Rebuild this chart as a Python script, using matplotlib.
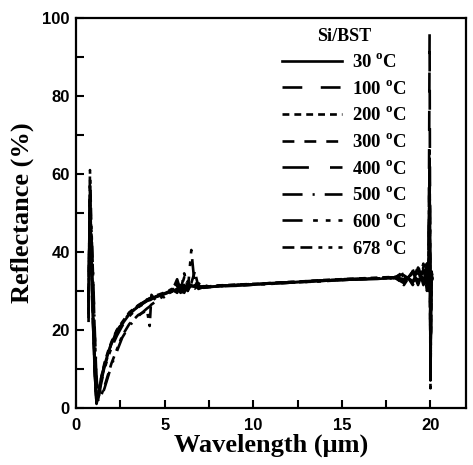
import matplotlib
matplotlib.use('Agg')
import matplotlib.pyplot as plt

plt.rcParams['mathtext.fontset'] = 'custom'
plt.rcParams['mathtext.rm'] = 'Liberation Serif:bold'

# wavelength grid (um) and reflectance (%) per anneal temperature
wl = [0.70, 0.78, 0.85, 0.95, 1.05, 1.15, 1.25, 1.40, 1.60, 1.80,
      2.00, 2.30, 2.60, 3.00, 3.50, 4.00, 4.15, 4.25, 4.50, 5.00,
      5.40, 5.70, 5.90, 6.10, 6.30, 6.50, 6.70, 6.90, 7.20, 7.60,
      8.00, 9.00, 10.0, 11.0, 12.0, 13.0, 14.0, 15.0, 16.0, 17.0,
      18.0, 18.5, 19.0, 19.3, 19.6, 19.8, 19.9, 19.95, 20.0, 20.05, 20.1]

r30 = [30, 52, 40, 22, 9, 1, 3, 7, 11, 14,
       16.5, 19.5, 21.5, 24, 26, 27.5, 27.8, 28, 28.5, 29.3,
       29.8, 30.5, 29.8, 31, 30.2, 31.5, 31, 31.2, 30.8, 31,
       31.2, 31.4, 31.6, 31.9, 32.1, 32.4, 32.6, 32.8, 33, 33.1,
       33.3, 32, 35, 31.5, 35.5, 32, 36, 58, 12, 34, 33]
r100 = [26, 55, 44, 25, 11, 2, 2.5, 6.5, 10.5, 13.5,
        16, 19, 21.5, 24, 26.2, 27.6, 28, 28.2, 28.8, 29.5,
        30.5, 29.5, 32, 30.5, 31.5, 30.8, 31.5, 31, 31.2, 31.1,
        31.3, 31.5, 31.8, 32, 32.2, 32.5, 32.7, 33, 33.1, 33.3,
        33.5, 34.5, 32, 36, 31, 35, 37, 96, 6, 33, 34]
r200 = [24, 54, 42, 24, 10, 1.5, 3.5, 7.5, 11.5, 14.5,
        17, 20, 22, 24.5, 26.3, 27.8, 28, 28.3, 28.8, 29.6,
        30, 31.5, 29, 30.5, 32.5, 31, 30.6, 31.5, 31, 31.2,
        31.4, 31.6, 31.8, 32, 32.3, 32.5, 32.8, 33, 33.2, 33.4,
        33.6, 31.5, 35, 32, 37, 30, 38, 66, 5, 35, 34]
r300 = [28, 56, 43, 23, 9.5, 1, 3, 7, 11, 14,
        16.8, 19.8, 21.8, 24.2, 26.2, 27.7, 28.1, 28.3, 28.7, 29.4,
        30.2, 30, 31, 29.5, 31.5, 32, 31.2, 30.8, 31.1, 31,
        31.3, 31.5, 31.7, 32, 32.2, 32.4, 32.7, 32.9, 33.1, 33.2,
        33.4, 35, 31.5, 34.5, 33, 37, 30, 62, 10, 32, 34]
r400 = [22, 53, 41, 22, 9, 1.2, 3.2, 7.2, 11.2, 14.2,
        16.6, 19.6, 21.6, 24, 26, 27.4, 27.7, 28, 28.6, 29.3,
        29.5, 32, 30.5, 31.5, 30, 32.5, 30.5, 31.3, 30.9, 31.1,
        31.2, 31.4, 31.7, 31.9, 32.2, 32.4, 32.6, 32.8, 33, 33.2,
        33.4, 32.5, 34.5, 35.5, 32, 34, 37, 60, 14, 36, 33]
r500 = [25, 50, 47, 35, 20, 8, 2, 2.5, 5, 8,
        11, 14.5, 18, 21, 23.5, 25.5, 26, 26.5, 27.3, 28.5,
        29.5, 30.5, 29.5, 31.5, 30, 31, 33, 30.5, 31, 31,
        31.2, 31.4, 31.6, 31.9, 32.1, 32.3, 32.6, 32.8, 33, 33.1,
        33.3, 34, 32.5, 33, 36, 31.5, 38, 55, 20, 33, 34]
r600 = [27, 57, 45, 26, 12, 3, 2, 6, 10, 13,
        15.5, 18.5, 21, 23.5, 25.8, 27.2, 27.6, 27.9, 28.4, 29.2,
        30, 31, 30.5, 33.5, 30, 40.5, 31, 32, 30.8, 31.2,
        31.3, 31.5, 31.7, 32, 32.2, 32.4, 32.7, 32.9, 33.1, 33.2,
        33.5, 33, 35.5, 32, 35.5, 34, 39, 64, 7, 34, 33]
r678 = [23, 61, 48, 34, 19, 7, 2.5, 3, 5.5, 8.5,
        11.5, 15, 18.5, 21.5, 23.8, 25, 21, 29, 27.5, 28.8,
        29.8, 33, 30, 34.5, 31, 32, 35, 31, 31.5, 31,
        31.2, 31.3, 31.6, 31.8, 32.1, 32.3, 32.5, 32.8, 33, 33.2,
        33.3, 34.5, 32, 36.5, 31.5, 37, 30, 58, 9, 35, 33]

series = [r30, r100, r200, r300, r400, r500, r600, r678]
temps = ['30', '100', '200', '300', '400', '500', '600', '678']
styles = ['-', (0, (7.5, 7)), (0, (2.6, 1.9)), (0, (4.5, 3.8)),
          (0, (10, 8)), (0, (7.6, 3.8, 0.8, 3.8)),
          (0, (7.6, 4, 1.8, 3, 1.8, 3)),
          (0, (4.5, 2.3, 4.5, 2.3, 1.5, 2.3, 1.5, 2.3))]

fig = plt.figure(figsize=(4.73, 4.65), dpi=100)
ax = fig.add_axes([0.161, 0.123, 0.824, 0.838])

for y, t, ls in zip(series, temps, styles):
    ax.plot(wl, y, color='black', lw=1.9, linestyle=ls, label=t + r' $^{\rm o}$C')

ax.set_xlim(0, 22)
ax.set_ylim(0, 100)
ax.set_xticks([0, 5, 10, 15, 20])
ax.set_xticks([2.5, 7.5, 12.5, 17.5], minor=True)
ax.set_yticks([0, 20, 40, 60, 80, 100])
ax.set_yticks([10, 30, 50, 70, 90], minor=True)
ax.tick_params(which='both', direction='in', width=1.5, length=6)
ax.tick_params(axis='x', which='both', pad=7)
ax.tick_params(axis='y', which='both', pad=4.5)
for lab in ax.get_xticklabels() + ax.get_yticklabels():
    lab.set_fontfamily('Liberation Sans')
    lab.set_fontweight('bold')
    lab.set_fontsize(12)
for s in ax.spines.values():
    s.set_linewidth(1.6)

ax.set_xlabel('Wavelength (\u03bcm)', fontfamily='Liberation Serif',
              fontweight='bold', fontsize=19, labelpad=1)
ax.set_ylabel('Reflectance (%)', fontfamily='Liberation Serif',
              fontweight='bold', fontsize=19, labelpad=6)

leg = ax.legend(loc='upper left', bbox_to_anchor=(0.51, 0.995), frameon=False,
                title='Si/BST', handlelength=3.2, handletextpad=0.5,
                labelspacing=0.46, borderaxespad=0,
                prop={'family': 'Liberation Serif', 'weight': 'bold', 'size': 13.5})
leg.get_title().set_fontfamily('Liberation Serif')
leg.get_title().set_fontweight('bold')
leg.get_title().set_fontsize(13)

fig.savefig('out.png', dpi=100)
